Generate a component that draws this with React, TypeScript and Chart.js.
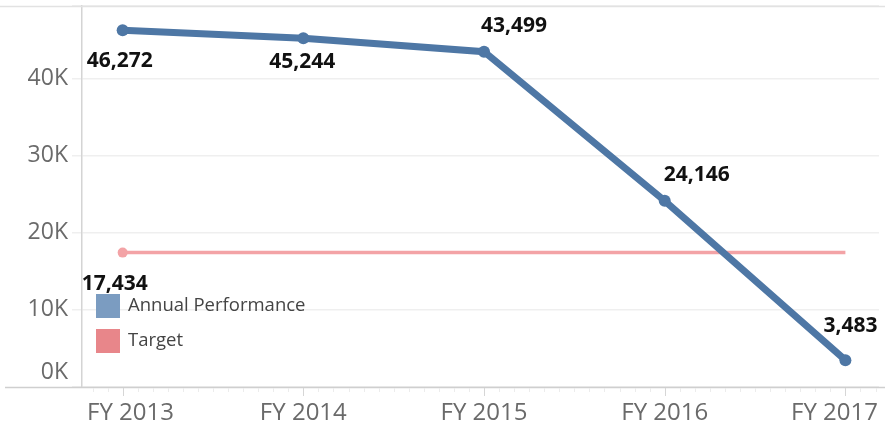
import React, { useEffect, useRef } from "react";
import { Chart, registerables } from "chart.js";

Chart.register(...registerables);

// ---- data ----
const categories = ["FY 2013", "FY 2014", "FY 2015", "FY 2016", "FY 2017"];
const annualPerformance = [46272, 45244, 43499, 24146, 3483];
const target = [17434, 17434, 17434, 17434, 17434];
const yTickValues = [0, 10000, 20000, 30000, 40000];
const yTickLabels = ["0K", "10K", "20K", "30K", "40K"];
const seriesNames = ["Annual Performance", "Target"];

// ---- style ----
const FONT = '"Open Sans", "Noto Sans", sans-serif';
const BLUE = "#4e77a5";
const BLUE_LEGEND = "#7b9cc1";
const PINK = "#f3a3a6";
const PINK_LEGEND = "#e8868a";
const AXIS_TEXT = "#6a6a6a";
const Y_MAX = 49420;
const X_MIN = -0.225;
const X_MAX = 4.186;
// label offsets (px) relative to each point
const perfLabelOffsets = [[-3, 31], [-1, 24], [30, -26], [32, -26], [5, -34]];
const targetLabelOffsets = [[-8, 31]];

const fmt = (v: number) => v.toLocaleString("en-US");

const decorPlugin = {
  id: "decor",
  beforeDatasetsDraw(chart: any) {
    const { ctx, chartArea, width } = chart;
    const xs = chart.scales.x;
    ctx.save();
    // top border
    ctx.strokeStyle = "#e2e2e2";
    ctx.lineWidth = 1.5;
    ctx.beginPath();
    ctx.moveTo(0, chartArea.top + 0.5);
    ctx.lineTo(width, chartArea.top + 0.5);
    ctx.stroke();
    // bottom axis
    ctx.strokeStyle = "#cfcfcf";
    ctx.lineWidth = 1.5;
    ctx.beginPath();
    ctx.moveTo(5, chartArea.bottom + 0.5);
    ctx.lineTo(width, chartArea.bottom + 0.5);
    ctx.stroke();
    // minor (monthly) ticks
    ctx.lineWidth = 1;
    for (let k = Math.ceil(X_MIN * 12); k <= Math.floor((X_MAX + 0.03) * 12); k++) {
      const px = Math.round(xs.getPixelForValue(k / 12)) + 0.5;
      const major = k % 12 === 0;
      ctx.strokeStyle = major ? "#d6d6d6" : "#ececec";
      ctx.beginPath();
      ctx.moveTo(px, chartArea.bottom + 1);
      ctx.lineTo(px, chartArea.bottom + (major ? 9 : 5));
      ctx.stroke();
    }
    // category labels, kept inside the canvas
    ctx.fillStyle = AXIS_TEXT;
    ctx.font = `24px ${FONT}`;
    ctx.textAlign = "center";
    ctx.textBaseline = "middle";
    categories.forEach((c, i) => {
      const w = ctx.measureText(c).width;
      let cx = xs.getPixelForValue(i);
      cx = Math.max(cx, chartArea.left + 5 + w / 2);
      cx = Math.min(cx, width - 7 - w / 2);
      ctx.fillText(c, cx, chartArea.bottom + 26);
    });
    // 0K label (lifted above axis)
    ctx.font = `23px ${FONT}`;
    ctx.textAlign = "right";
    ctx.fillText(yTickLabels[0], chartArea.left - 14, chartArea.bottom - 15);
    ctx.restore();
  },
  afterDatasetsDraw(chart: any) {
    const { ctx, chartArea } = chart;
    ctx.save();
    // data labels
    ctx.font = `bold 21px ${FONT}`;
    ctx.fillStyle = "#111";
    ctx.textAlign = "center";
    ctx.textBaseline = "middle";
    const m0 = chart.getDatasetMeta(0);
    m0.data.forEach((pt: any, i: number) => {
      const [dx, dy] = perfLabelOffsets[i];
      ctx.fillText(fmt(annualPerformance[i]), pt.x + dx, pt.y + dy);
    });
    const m1 = chart.getDatasetMeta(1);
    targetLabelOffsets.forEach((o, i) => {
      const pt = m1.data[i];
      ctx.fillText(fmt(target[i]), pt.x + o[0], pt.y + o[1]);
    });
    // legend
    const lx = chartArea.left + 14;
    const ly = chartArea.bottom - 93;
    const colors = [BLUE_LEGEND, PINK_LEGEND];
    ctx.font = `18.5px ${FONT}`;
    ctx.textAlign = "left";
    seriesNames.forEach((name, i) => {
      const y = ly + i * 35;
      ctx.fillStyle = colors[i];
      ctx.fillRect(lx, y, 24, 24);
      ctx.fillStyle = "#444";
      ctx.fillText(name, lx + 32, y + 12);
    });
    ctx.restore();
  },
};

export default function App() {
  const ref = useRef<HTMLCanvasElement | null>(null);
  useEffect(() => {
    if (!ref.current) return;
    const chart = new Chart(ref.current, {
      type: "line",
      data: {
        datasets: [
          {
            label: seriesNames[0],
            data: annualPerformance.map((v, i) => ({ x: i, y: v })),
            borderColor: BLUE,
            backgroundColor: BLUE,
            borderWidth: 7,
            pointRadius: 6,
            pointHoverRadius: 6,
            pointBackgroundColor: BLUE,
            pointBorderWidth: 0,
            tension: 0,
            clip: false,
            order: 0,
          },
          {
            label: seriesNames[1],
            data: target.map((v, i) => ({ x: i, y: v })),
            borderColor: PINK,
            backgroundColor: PINK,
            borderWidth: 3.5,
            pointRadius: target.map((_, i) => (i === 0 ? 5 : 0)),
            pointHoverRadius: 0,
            pointBackgroundColor: PINK,
            pointBorderWidth: 0,
            tension: 0,
            clip: false,
            order: 1,
          },
        ],
      } as any,
      options: {
        animation: false,
        responsive: false,
        devicePixelRatio: 1,
        events: [],
        layout: { padding: { top: 5, right: 0, left: 0, bottom: 0 } },
        plugins: { legend: { display: false }, tooltip: { enabled: false } },
        scales: {
          x: {
            type: "linear",
            min: X_MIN,
            max: X_MAX,
            afterBuildTicks: (s: any) => {
              s.ticks = categories.map((_, i) => ({ value: i }));
            },
            ticks: { display: false },
            grid: { display: false },
            border: { display: false },
            afterFit: (s: any) => {
              s.height = 43;
              s.paddingLeft = 0;
              s.paddingRight = 0;
            },
          },
          y: {
            min: 0,
            max: Y_MAX,
            afterBuildTicks: (s: any) => {
              s.ticks = [...yTickValues, Y_MAX].map((v) => ({ value: v }));
            },
            ticks: {
              callback: (v: any) => {
                const i = yTickValues.indexOf(v);
                return i > 0 ? yTickLabels[i] : "";
              },
              font: { family: FONT, size: 23 },
              color: AXIS_TEXT,
              padding: 4,
            },
            grid: { color: "#efefef", tickLength: 10, drawTicks: true, lineWidth: 1.5 },
            border: { display: true, color: "#d4d4d4", width: 1.5 },
            afterFit: (s: any) => {
              s.width = 82;
              s.paddingTop = 0;
              s.paddingBottom = 0;
            },
          },
        },
      } as any,
      plugins: [decorPlugin],
    });
    return () => chart.destroy();
  }, []);
  return (
    <div style={{ position: "fixed", left: 0, top: 0, width: 885, height: 430, background: "#fff" }}>
      <canvas ref={ref} width={885} height={430} style={{ display: "block" }} />
    </div>
  );
}
